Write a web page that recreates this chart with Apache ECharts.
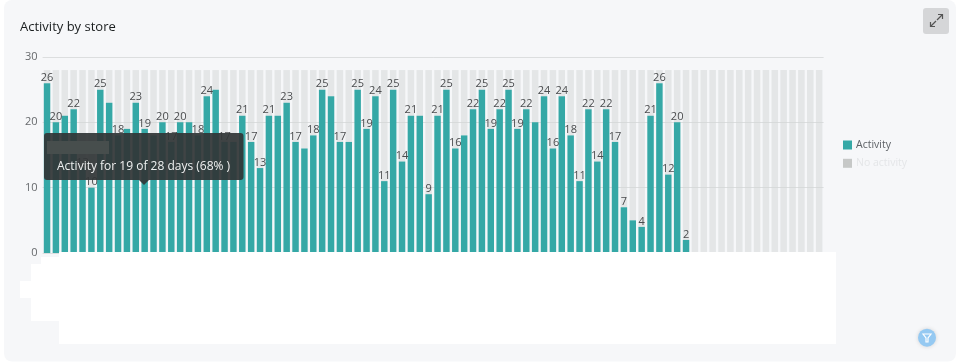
<!DOCTYPE html>
<html>
<head>
<meta charset="utf-8">
<style>
html,body{margin:0;padding:0;background:#fff;}
#c{width:957px;height:362px;}
</style>
<script src="https://cdn.jsdelivr.net/npm/echarts@6/dist/echarts.min.js"></script>
</head>
<body>
<div id="c"></div>
<script>
const activity = [26,20,21,22,13,10,25,23,18,19,23,19,18,20,17,20,20,18,24,25,17,17,21,17,13,21,21,23,17,16,18,25,24,17,17,25,19,24,11,25,14,21,21,9,21,25,16,18,22,25,19,22,25,19,22,20,24,16,24,18,11,22,14,22,17,7,5,4,21,26,12,20,2,0,0,0,0,0,0,0,0,0,0,0,0,0,0,0];
const totalDays = 28;
const noActivity = activity.map(v => totalDays - v);
const stores = activity.map((v, i) => 'Store ' + (i + 1));
const unlabelled = [2,7,9,12,16,19,21,26,29,32,34,42,47,55,66];
const yTicks = [0,10,20,30];
const titleText = 'Activity by store';
const tipText = 'Activity for 19 of 28 days (68% )';
const font = '"Open Sans", sans-serif';

const chart = echarts.init(document.getElementById('c'), null, {renderer:'canvas'});
chart.setOption({
  animation:false,
  backgroundColor:'#ffffff',
  title:{text:titleText,left:20,top:21,padding:0,textStyle:{fontFamily:font,fontSize:13,fontWeight:'normal',color:'#1a1e1f'}},
  legend:{
    orient:'vertical',left:843,top:139.5,padding:0,itemWidth:9,itemHeight:9,itemGap:7.3,
    textStyle:{fontFamily:font,fontSize:10.5,color:'#5d6166',padding:[2,0,0,-1]},
    data:[{name:'Activity',icon:'rect'},{name:'No activity',icon:'rect',itemStyle:{color:'#c6c8c7'},textStyle:{color:'#e4e6e8'}}],
    selectedMode:false
  },
  grid:{left:42.6,top:57,width:781,height:196,containLabel:false},
  xAxis:{type:'category',data:stores,axisLine:{show:false},axisTick:{show:false},axisLabel:{show:false}},
  yAxis:{type:'value',min:0,max:30,interval:10,
    axisLabel:{fontFamily:font,fontSize:11,color:'#66696c',margin:5,padding:[6,0,0,0],
      formatter:v=>yTicks.includes(v)?String(v):''},
    axisLine:{show:false},axisTick:{show:false},
    splitLine:{lineStyle:{color:'#dcdedf',width:1}}},
  series:[
    {name:'Activity',type:'bar',stack:'days',barWidth:'73%',data:activity,z:3,
      itemStyle:{color:'#35a8a6'},
      label:{show:true,position:'top',distance:0,fontFamily:font,fontSize:11,color:'#4a4c4e',
        formatter:p=>(p.value>0&&!unlabelled.includes(p.dataIndex))?String(p.value):''}},
    {name:'No activity',type:'bar',stack:'days',barWidth:'73%',data:noActivity,z:2,
      itemStyle:{color:'rgba(210,213,213,0.5)'}}
  ],
  graphic:[
    {type:'rect',z:-10,silent:true,shape:{x:4,y:0,width:952,height:361.5,r:8},style:{fill:'#f6f7f9'}},
    {type:'rect',z:50,shape:{x:59,y:252,width:777,height:92},style:{fill:'#fff'}},
    {type:'rect',z:50,shape:{x:41,y:257,width:18,height:8},style:{fill:'#fff'}},
    {type:'rect',z:50,shape:{x:31,y:264,width:28,height:57},style:{fill:'#fff'}},
    {type:'rect',z:50,shape:{x:20,y:281,width:11,height:17},style:{fill:'#fff'}},
    {type:'rect',z:60,shape:{x:44,y:133,width:199.5,height:47,r:3},style:{fill:'rgba(50,54,55,0.93)'}},
    {type:'polygon',z:60,shape:{points:[[139,180],[149,180],[144,185]]},style:{fill:'rgba(50,54,55,0.93)'}},
    {type:'rect',z:61,shape:{x:47,y:141,width:62,height:13},style:{fill:'#474e4d'}},
    {type:'text',z:62,style:{x:57,y:161,text:tipText,fill:'#eef0f0',fontFamily:font,fontSize:12}},
    {type:'rect',z:10,shape:{x:923,y:8,width:26,height:26,r:3},style:{fill:'#d5d6d8'}},
    {type:'polyline',z:11,shape:{points:[[937,20],[942.5,14.5]]},style:{stroke:'#555',lineWidth:1.2,fill:null}},
    {type:'polyline',z:11,shape:{points:[[938,14.5],[942.5,14.5],[942.5,19]]},style:{stroke:'#555',lineWidth:1.2,fill:null}},
    {type:'polyline',z:11,shape:{points:[[930.5,26.5],[936,21]]},style:{stroke:'#555',lineWidth:1.2,fill:null}},
    {type:'polyline',z:11,shape:{points:[[930.5,22],[930.5,26.5],[935,26.5]]},style:{stroke:'#555',lineWidth:1.2,fill:null}},
    {type:'circle',z:10,shape:{cx:927,cy:337.7,r:9},style:{fill:'#95c9f2',shadowBlur:4,shadowColor:'rgba(0,0,0,0.15)'}},
    {type:'polygon',z:11,shape:{points:[[923,334],[931,334],[928,338],[928,342],[926,342],[926,338]]},style:{fill:'none',stroke:'#fff',lineWidth:1.2}}
  ]
});
</script>
</body>
</html>
